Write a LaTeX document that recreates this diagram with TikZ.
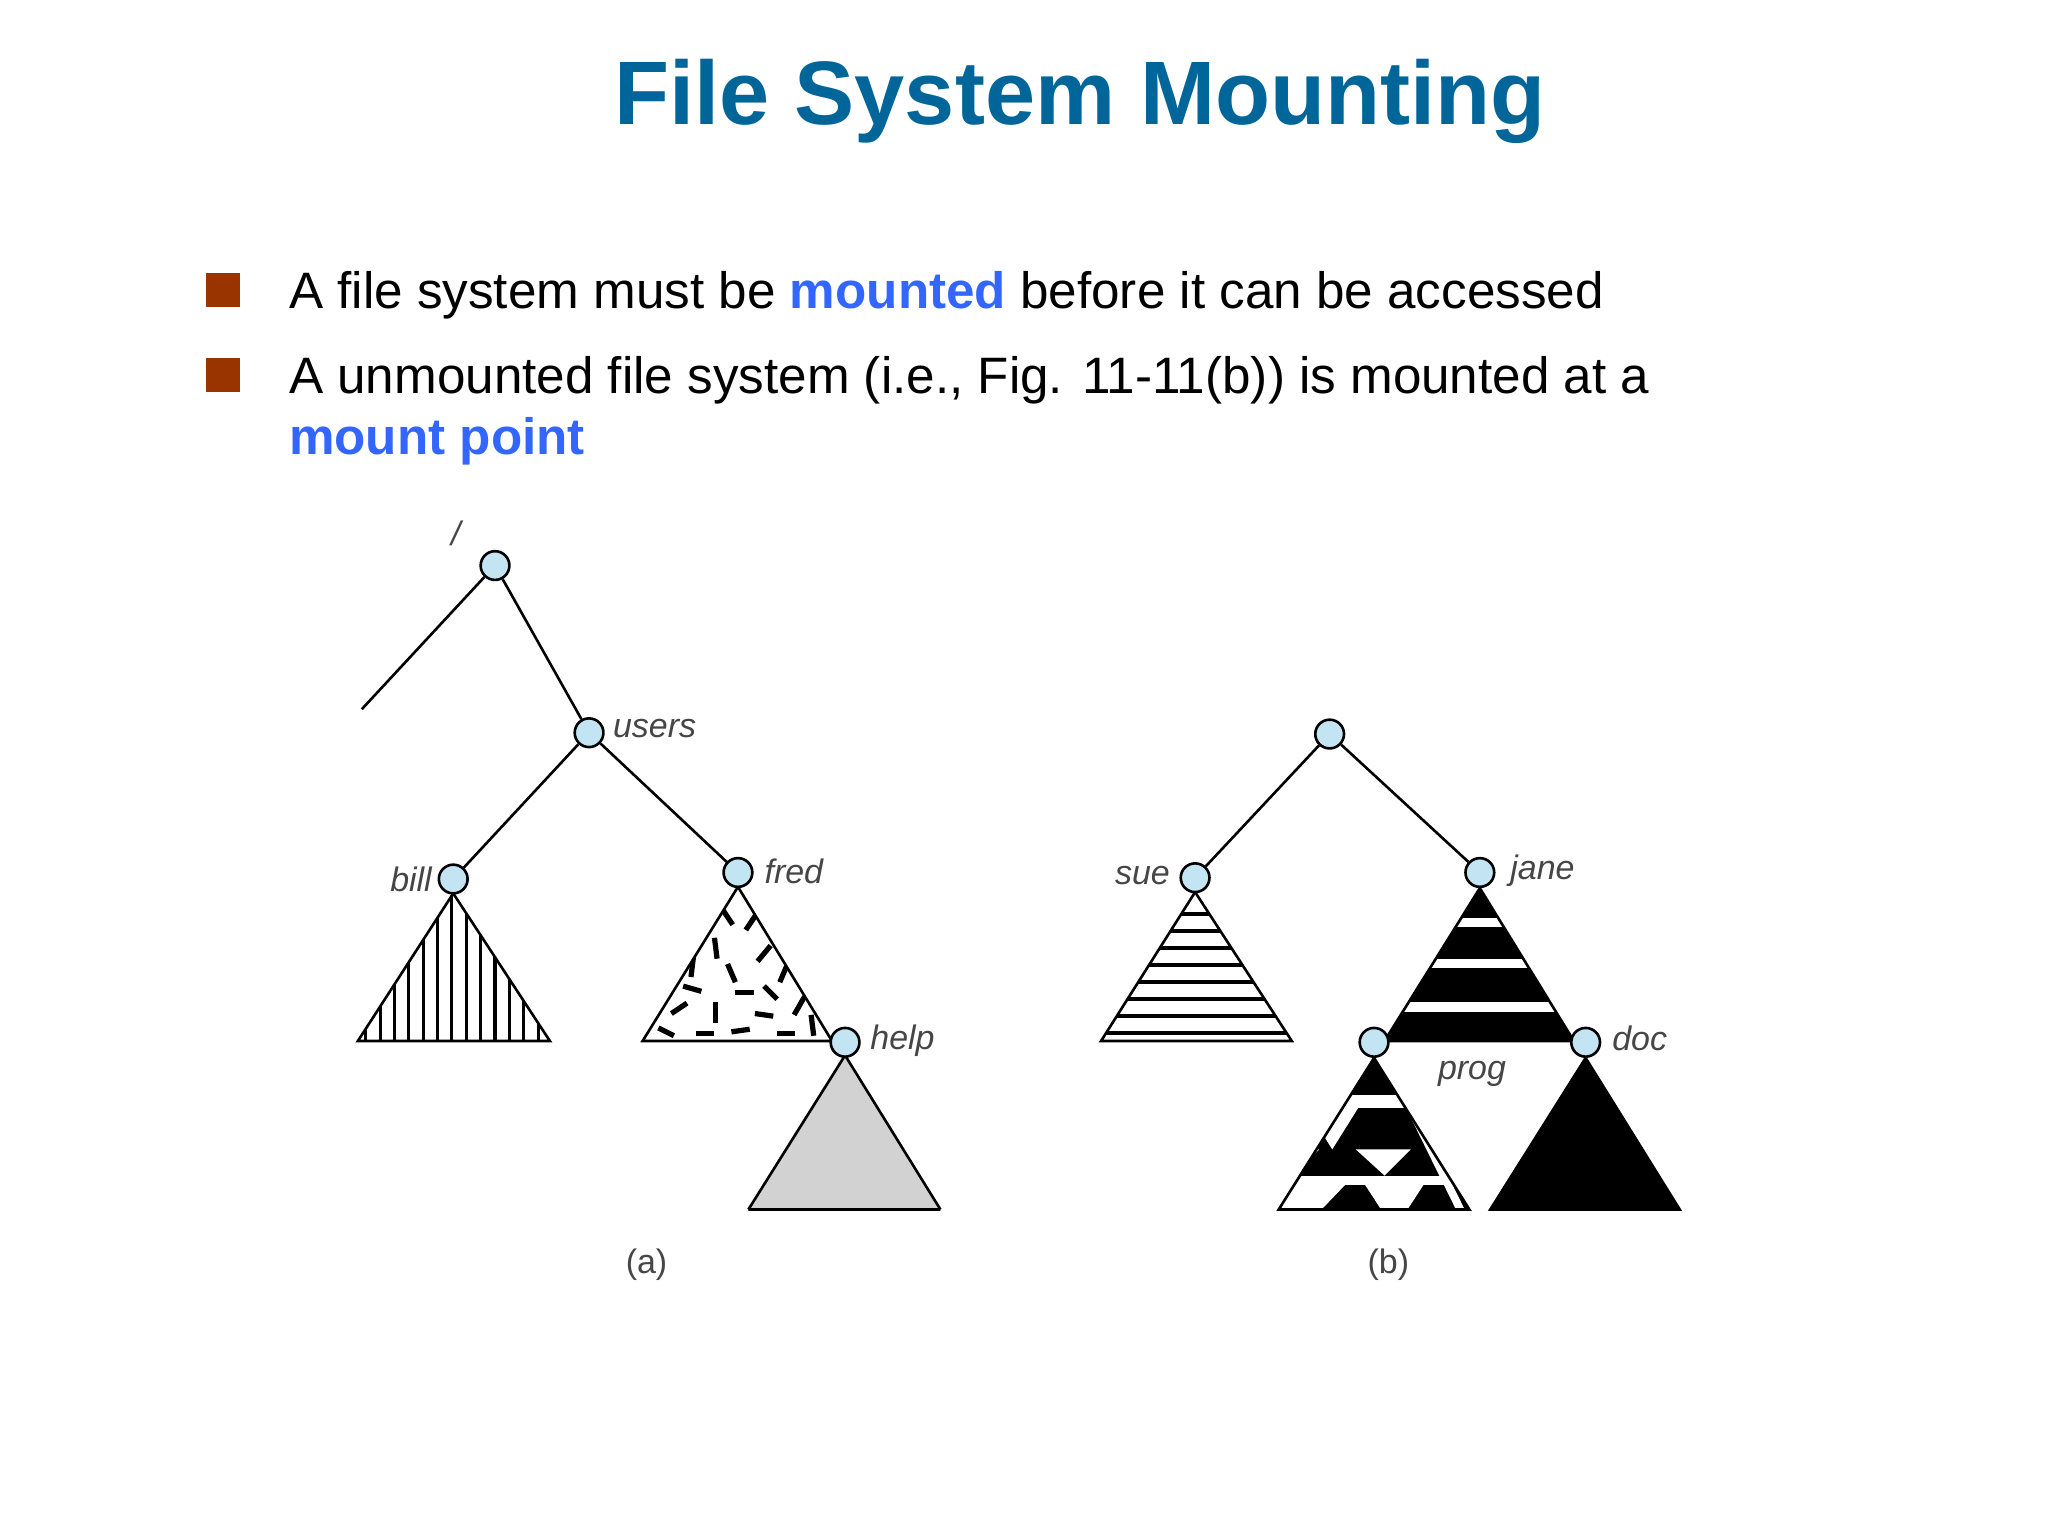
\documentclass[tikz,border=0pt]{standalone}
\usepackage{fontspec}
\setmainfont{Liberation Sans}
\definecolor{titleblue}{RGB}{0,102,153}
\definecolor{kwblue}{RGB}{51,102,255}
\definecolor{bulletred}{RGB}{153,51,0}
\definecolor{nodeblue}{RGB}{195,228,242}
\definecolor{lblgray}{RGB}{70,70,70}
\definecolor{helpgray}{RGB}{210,210,210}
\begin{document}
\begin{tikzpicture}[x=0.5pt,y=-0.5pt,
  dirnode/.style={circle,draw=black,line width=1pt,fill=nodeblue,minimum size=11pt,inner sep=0pt},
  lbl/.style={font=\fontsize{13}{13}\selectfont\itshape,text=lblgray,inner sep=1pt},
  edge/.style={line width=1pt},
  tri/.style={line width=1pt},
  bullet/.style={fill=bulletred,minimum size=13pt,inner sep=0pt},
  body/.style={font=\fontsize{19.6}{24}\selectfont,anchor=west,inner sep=0pt}]
\useasboundingbox (0,0) rectangle (1568,1176);
\node[font=\fontsize{34.5}{40}\selectfont\bfseries,text=titleblue] (title) at (827,78) {File System Mounting};
\node[bullet] (b1) at (171,222) {};
\node[bullet] (b2) at (171,287) {};
\node[body] (t1) at (221,226) {A file system must be \textbf{\color{kwblue}mounted} before it can be accessed};
\node[body] (t2) at (221,291) {A unmounted file system (i.e., Fig. 11-11(b)) is mounted at a};
\node[body] (t3) at (221,338) {\textbf{\color{kwblue}mount point}};

% ---- tree (a)
\begin{scope}
\fill[helpgray] (647,808) -- (573,926) -- (720,926) -- cycle;
\draw[tri] (573,926) -- (720,926) (573,926) -- (647,808) -- (720,926);
% bill
\begin{scope}
\clip (347,684) -- (274,797) -- (421,797) -- cycle;
\foreach \x in {280,291,...,420} \draw[line width=1.2pt] (\x,680) -- (\x,800);
\end{scope}
\draw[tri] (347,684) -- (274,797) -- (421,797) -- cycle;
% fred
\begin{scope}
\clip (565,679) -- (492,797) -- (637,797) -- cycle;
\foreach \x/\y/\dx/\dy in {557/702/4/6,575/706/-4/6,548/726/1/8,585/730/-5/6,560/745/3/7,600/745/-3/7,530/757/7/2,570/760/7/0,520/772/-6/4,548/775/0/8,585/777/7/1,612/770/-4/7,510/790/6/3,540/791/7/0,567/789/7/-1,602/791/7/0,622/785/1/8,530/740/-1/8,590/760/5/5}
  \draw[line width=2pt] (\x-\dx,\y-\dy) -- (\x+\dx,\y+\dy);
\end{scope}
\draw[tri] (565,679) -- (492,797) -- (637,797) -- cycle;
\node[dirnode] (root) at (379,433) {};
\node[dirnode] (users) at (451,561) {};
\node[dirnode] (bill) at (347,673) {};
\node[dirnode] (fred) at (565,668) {};
\node[dirnode] (help) at (647,798) {};
\coordinate (lft) at (277,543);
\draw[edge] (root) -- (lft);
\draw[edge] (root) -- (users);
\draw[edge] (users) -- (bill);
\draw[edge] (users) -- (fred);
\node[lbl] (slash) at (349,408) {/};
\node[lbl,anchor=west] (lu) at (467,558) {users};
\node[lbl,anchor=east] (lb) at (333,673) {bill};
\node[lbl,anchor=west] (lf) at (583,667) {fred};
\node[lbl,anchor=west] (lh) at (664,797) {help};
\node[font=\fontsize{13}{13}\selectfont,text=lblgray] (capa) at (495,968) {(a)};
\end{scope}

% ---- tree (b)
\begin{scope}
% sue
\begin{scope}
\clip (915,683) -- (843,797) -- (989,797) -- cycle;
\foreach \y in {700,713,...,795} \draw[line width=1.6pt] (840,\y) -- (995,\y);
\end{scope}
\draw[tri] (915,683) -- (843,797) -- (989,797) -- cycle;
% jane
\begin{scope}
\clip (1133,680) -- (1060,797) -- (1205,797) -- cycle;
\fill[black] (1050,675) rectangle (1215,800);
\foreach \y in {706,738,771} \fill[white] (1050,\y-3.5) rectangle (1215,\y+3.5);
\end{scope}
\draw[tri] (1133,680) -- (1060,797) -- (1205,797) -- cycle;
% prog
\begin{scope}
\clip (1052,810) -- (979,926) -- (1125,926) -- cycle;
\fill[black] (970,805) rectangle (1130,930);
\fill[white] (970,838) rectangle (1080,848);
\fill[white] (1000,848) -- (1040,848) -- (1020,880) -- cycle;
\fill[white] (970,880) -- (1010,880) -- (990,900) -- cycle;
\fill[white] (970,900) rectangle (1130,907);
\fill[white] (985,907) -- (1030,907) -- (1008,930) -- (980,930) -- cycle;
\fill[white] (1045,907) -- (1090,907) -- (1075,930) -- (1060,930) -- cycle;
\fill[white] (1038,880) -- (1080,880) -- (1060,900) -- cycle;
\draw[white,line width=3pt] (1062,812) -- (1120,930);
\end{scope}
\draw[tri] (1052,810) -- (979,926) -- (1125,926) -- cycle;
% doc
\fill[black] (1214,810) -- (1141,926) -- (1286,926) -- cycle;
\draw[tri] (1214,810) -- (1141,926) -- (1286,926) -- cycle;
\node[dirnode] (rootb) at (1018,562) {};
\node[dirnode] (sue) at (915,672) {};
\node[dirnode] (jane) at (1133,668) {};
\node[dirnode] (prog) at (1052,798) {};
\node[dirnode] (doc) at (1214,798) {};
\draw[edge] (rootb) -- (sue);
\draw[edge] (rootb) -- (jane);
\node[lbl,anchor=east] (ls) at (898,670) {sue};
\node[lbl,anchor=west] (lj) at (1154,667) {jane};
\node[lbl] (lp) at (1127,822) {prog};
\node[lbl,anchor=west] (ld) at (1232,795) {doc};
\node[font=\fontsize{13}{13}\selectfont,text=lblgray] (capb) at (1063,968) {(b)};
\end{scope}
\end{tikzpicture}
\end{document}
